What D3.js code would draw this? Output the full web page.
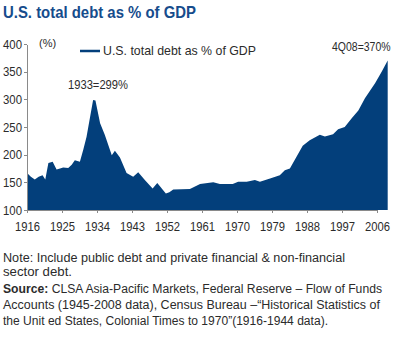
<!DOCTYPE html>
<html><head><meta charset="UTF-8">
<style type="text/css">
body { margin: 0; background: #fff; }
svg text { font-family: "Liberation Sans", Arial, sans-serif; fill: #2b2b2b; }
.area { fill: #033f7b; }
.axis path, .axis line { stroke: #8a8a8a; shape-rendering: crispEdges; }
.axis text { font-size: 13px; }
.title { font-size: 17px; font-weight: bold; fill: #164c8c !important; }
.note { font-size: 12.5px; }
</style>
<script src="https://cdn.jsdelivr.net/npm/d3@7"></script>
</head><body>
<div id="chart"></div>
<script>
// values (year, % of GDP)
var years = [1916, 1917, 1918, 1919, 1920, 1920.7, 1921.5, 1922.6, 1923.6, 1924.5,
  1925.3, 1926.6, 1927.5, 1928.3, 1929.6, 1930.5, 1931.3, 1933, 1933.6, 1934.8,
  1936, 1937.8, 1938.6, 1939.9, 1941.6, 1943.3, 1944.6, 1946.3, 1948.3, 1949.5,
  1951.7, 1952.6, 1953.6, 1957.9, 1960.5, 1963.9, 1965.6, 1968.9, 1970.3, 1972.5,
  1974.6, 1975.9, 1978.5, 1981, 1982.3, 1983.6, 1986.9, 1988.7, 1991.3, 1992.6,
  1994.7, 1996, 1997.7, 1999.5, 2001.2, 2002.9, 2005.5, 2007.2, 2008.75];
var debt = [167, 160, 155, 160, 163, 155, 185, 187, 173, 175,
  177, 176, 182, 190, 187, 210, 232, 299, 298, 257,
  236, 199, 207, 195, 167, 160, 168, 154, 139, 149,
  130, 132, 137, 138, 147, 150, 147, 147, 151, 151,
  154, 151, 157, 163, 172, 175, 216, 226, 236, 233,
  237, 246, 250, 266, 280, 302, 329, 350, 370];

var yTicks = [100, 150, 200, 250, 300, 350, 400];
var xTicks = [1916, 1925, 1934, 1943, 1952, 1961, 1970, 1979, 1988, 1997, 2006];

var title = "U.S. total debt as % of GDP";
var seriesName = "U.S. total debt as % of GDP";
var noteLines = [
  "Note: Include public debt and private financial & non-financial",
  "sector debt."
];
var sourceLines = [
  ["Source:", " CLSA Asia-Pacific Markets, Federal Reserve \u2013 Flow of Funds"],
  ["", "Accounts (1945-2008 data), Census Bureau \u2013\u201cHistorical Statistics of"],
  ["", "the Unit ed States, Colonial Times to 1970\u201d(1916-1944 data)."]
];

var width = 400, height = 346;

var svg = d3.select("#chart").append("svg")
    .attr("width", width)
    .attr("height", height);

var x = d3.scaleLinear().domain([1916, 2006]).range([27, 377]);
var y = d3.scaleLinear().domain([100, 400]).range([210, 44]);

var data = years.map(function(d, i) { return {year: d, v: debt[i]}; });

var area = d3.area()
    .x(function(d) { return x(d.year); })
    .y0(y(100))
    .y1(function(d) { return y(d.v); });

svg.append("path")
    .datum(data)
    .attr("class", "area")
    .attr("d", area);

// axes (labels squeezed a bit, the original uses a condensed face)
svg.append("g")
    .attr("class", "axis")
    .attr("transform", "translate(27,0)")
    .call(d3.axisLeft(y).tickValues(yTicks).tickSize(3).tickSizeOuter(0).tickPadding(2))
  .selectAll("text")
    .attr("textLength", 19).attr("lengthAdjust", "spacingAndGlyphs");

svg.append("g")
    .attr("class", "axis")
    .attr("transform", "translate(0," + y(100) + ")")
    .call(d3.axisBottom(x).tickValues(xTicks).tickFormat(d3.format("d"))
      .tickSize(3).tickSizeOuter(0).tickPadding(9))
  .selectAll("text")
    .attr("textLength", 25).attr("lengthAdjust", "spacingAndGlyphs");

// title
svg.append("text")
    .attr("class", "title")
    .attr("x", 3).attr("y", 18)
    .attr("textLength", 193).attr("lengthAdjust", "spacingAndGlyphs")
    .text(title);

svg.append("text")
    .attr("x", 39).attr("y", 47)
    .style("font-size", "11px")
    .text("(%)");

// legend
svg.append("line")
    .attr("x1", 80).attr("x2", 100)
    .attr("y1", 51).attr("y2", 51)
    .attr("stroke", "#033f7b").attr("stroke-width", 2.5);
svg.append("text")
    .attr("x", 103).attr("y", 55)
    .style("font-size", "13px")
    .attr("textLength", 153).attr("lengthAdjust", "spacingAndGlyphs")
    .text(seriesName);

// annotations
var peakI = debt.indexOf(d3.max(debt.slice(0, 30)));
svg.append("text")
    .attr("x", 68).attr("y", 89)
    .style("font-size", "13px")
    .attr("textLength", 60).attr("lengthAdjust", "spacingAndGlyphs")
    .text(years[peakI] + "=" + debt[peakI] + "%");

// end label: narrowed with a transform so its box stays inside the frame
svg.append("text")
    .attr("transform", "translate(332,51) scale(0.84,1)")
    .style("font-size", "12.5px")
    .text("4Q08=" + debt[debt.length - 1] + "%");

// notes
var noteW = [342, 69];
noteLines.forEach(function(t, i) {
  svg.append("text")
      .attr("class", "note")
      .attr("x", 3).attr("y", 262 + i * 14)
      .attr("textLength", noteW[i]).attr("lengthAdjust", "spacingAndGlyphs")
      .text(t);
});

var srcW = [379, 377, 325];
sourceLines.forEach(function(t, i) {
  var tx = svg.append("text")
      .attr("class", "note")
      .attr("x", 3).attr("y", 293 + i * 16)
      .attr("textLength", srcW[i]).attr("lengthAdjust", "spacingAndGlyphs");
  if (t[0]) tx.append("tspan").style("font-weight", "bold").text(t[0]);
  tx.append("tspan").text(t[1]);
});
</script>
</body></html>
